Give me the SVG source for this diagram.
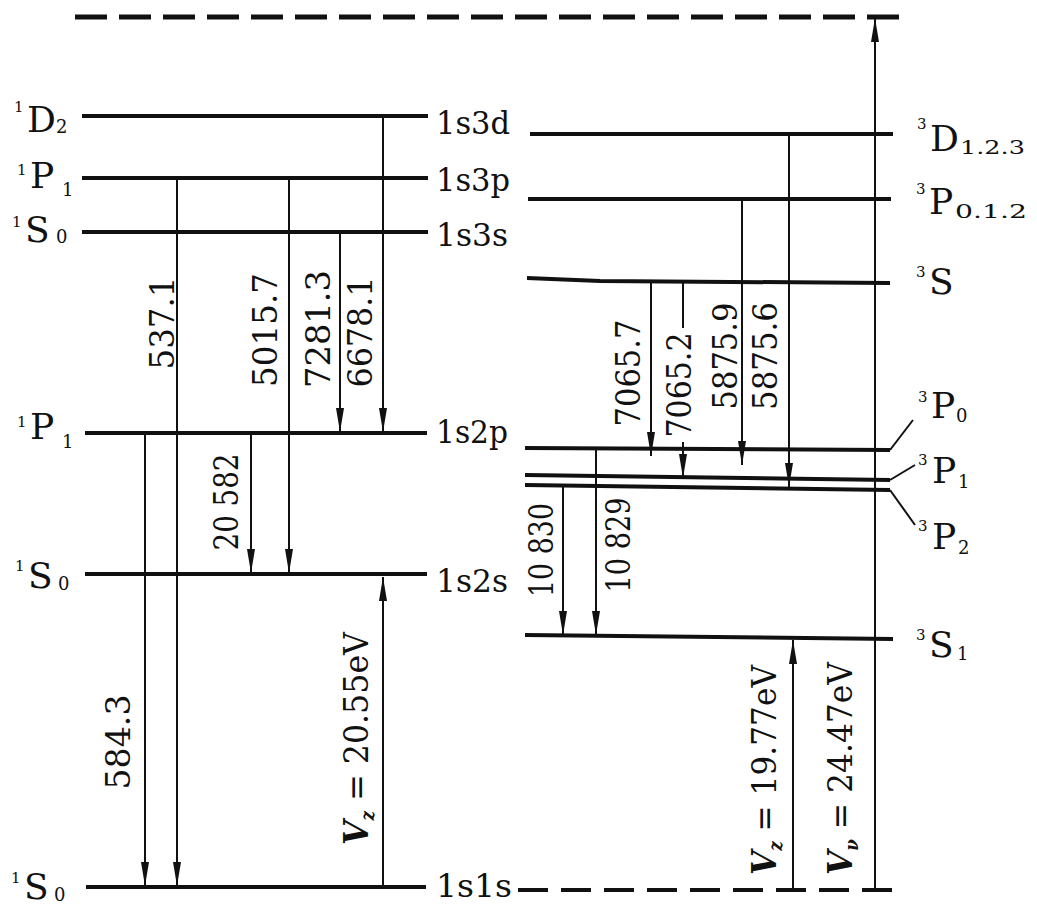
<svg xmlns="http://www.w3.org/2000/svg" width="1037" height="908" viewBox="0 0 1037 908">
<style>
.lv{stroke:#111;stroke-width:4;fill:none;stroke-linecap:butt}
.tr{stroke:#111;stroke-width:2;fill:none}
.dash{stroke:#111;fill:none}
.t{fill:#111}
.big{font-size:36px}
.sup{font-size:15px}
.sub{font-size:18px}
.nm{font-size:32px}
.num{font-size:34px}
.it{font-style:italic;font-weight:bold;font-size:34px}
</style>
<defs>
<marker id="ah" viewBox="0 0 24 8" refX="24" refY="4" markerWidth="24" markerHeight="8" orient="auto" markerUnits="userSpaceOnUse">
<path d="M0,0 L24,4 L0,8 z" fill="#111"/>
</marker>
</defs>
<rect width="1037" height="908" fill="#fff"/>

<g id="dashed-lines">
<line class="dash" x1="75" y1="17" x2="900" y2="17" stroke-width="5" stroke-dasharray="32 12"/>
<line class="dash" x1="518" y1="890" x2="898" y2="890" stroke-width="4" stroke-dasharray="30 13"/>
</g>

<g font-family="DejaVu Serif, Liberation Serif, serif">
<g id="level-1s3d">
<line class="lv" x1="82" y1="116" x2="428" y2="116"/>
<text class="t sup" x="14" y="112">1</text><text class="t big" x="27" y="132">D</text><text class="t sub" x="56" y="133">2</text>
<text class="t nm" x="436" y="134" textLength="74" lengthAdjust="spacingAndGlyphs">1s3d</text>
</g>
<g id="level-1s3p">
<line class="lv" x1="82" y1="178" x2="428" y2="178"/>
<text class="t sup" x="17" y="175">1</text><text class="t big" x="30" y="188">P</text><text class="t sub" x="62" y="196">1</text>
<text class="t nm" x="436" y="191" textLength="74" lengthAdjust="spacingAndGlyphs">1s3p</text>
</g>
<g id="level-1s3s">
<line class="lv" x1="82" y1="232" x2="428" y2="232"/>
<text class="t sup" x="12" y="227">1</text><text class="t big" x="25" y="242">S</text><text class="t sub" x="56" y="243">0</text>
<text class="t nm" x="436" y="246" textLength="72" lengthAdjust="spacingAndGlyphs">1s3s</text>
</g>
<g id="level-1s2p">
<line class="lv" x1="85" y1="433" x2="427" y2="433"/>
<text class="t sup" x="17" y="427">1</text><text class="t big" x="30" y="439">P</text><text class="t sub" x="62" y="448">1</text>
<text class="t nm" x="436" y="443" textLength="72" lengthAdjust="spacingAndGlyphs">1s2p</text>
</g>
<g id="level-1s2s">
<line class="lv" x1="85" y1="574" x2="427" y2="574"/>
<text class="t sup" x="15" y="571">1</text><text class="t big" x="28" y="588">S</text><text class="t sub" x="58" y="590">0</text>
<text class="t nm" x="436" y="592" textLength="72" lengthAdjust="spacingAndGlyphs">1s2s</text>
</g>
<g id="level-1s1s">
<line class="lv" x1="86" y1="887" x2="426" y2="887"/>
<text class="t sup" x="11" y="883">1</text><text class="t big" x="24" y="899">S</text><text class="t sub" x="54" y="901">0</text>
<text class="t nm" x="436" y="897" textLength="76" lengthAdjust="spacingAndGlyphs">1s1s</text>
</g>

<g id="level-3D">
<line class="lv" x1="530" y1="134" x2="893" y2="134"/>
<text class="t sup" x="917" y="129">3</text><text class="t big" x="930" y="151">D</text><text class="t sub" x="960" y="154" textLength="65" lengthAdjust="spacingAndGlyphs">1.2.3</text>
</g>
<g id="level-3P012">
<line class="lv" x1="528" y1="199" x2="891" y2="199"/>
<text class="t sup" x="916" y="194">3</text><text class="t big" x="929" y="214">P</text><text class="t sub" x="955" y="218" textLength="72" lengthAdjust="spacingAndGlyphs">0.1.2</text>
</g>
<g id="level-3S">
<path class="lv" d="M527,278 L600,281 L890,283"/>
<text class="t sup" x="916" y="277">3</text><text class="t big" x="929" y="294">S</text>
</g>
<g id="level-3P0">
<line class="lv" x1="525" y1="448" x2="890" y2="450"/>
<line class="tr" x1="890" y1="450" x2="913" y2="420"/>
<text class="t sup" x="918" y="402">3</text><text class="t big" x="931" y="418">P</text><text class="t sub" x="956" y="422">0</text>
</g>
<g id="level-3P1">
<line class="lv" x1="525" y1="475" x2="890" y2="480"/>
<line class="tr" x1="890" y1="480" x2="915" y2="465"/>
<text class="t sup" x="918" y="465">3</text><text class="t big" x="932" y="483">P</text><text class="t sub" x="958" y="488">1</text>
</g>
<g id="level-3P2">
<line class="lv" x1="525" y1="485" x2="890" y2="490"/>
<line class="tr" x1="890" y1="490" x2="915" y2="525"/>
<text class="t sup" x="918" y="531">3</text><text class="t big" x="932" y="549">P</text><text class="t sub" x="958" y="554">2</text>
</g>
<g id="level-3S1">
<line class="lv" x1="525" y1="635" x2="893" y2="639"/>
<text class="t sup" x="916" y="640">3</text><text class="t big" x="929" y="657">S</text><text class="t sub" x="957" y="660">1</text>
</g>

<g id="connectors">
<line class="tr" x1="177" y1="178" x2="177" y2="886" marker-end="url(#ah)"/>
<line class="tr" x1="145" y1="433" x2="145" y2="886" marker-end="url(#ah)"/>
<line class="tr" x1="251" y1="433" x2="251" y2="573" marker-end="url(#ah)"/>
<line class="tr" x1="289" y1="178" x2="289" y2="573" marker-end="url(#ah)"/>
<line class="tr" x1="340" y1="232" x2="340" y2="432" marker-end="url(#ah)"/>
<line class="tr" x1="383" y1="116" x2="383" y2="432" marker-end="url(#ah)"/>
<line class="tr" x1="383" y1="887" x2="383" y2="577" marker-end="url(#ah)"/>
<line class="tr" x1="651" y1="281" x2="651" y2="456" marker-end="url(#ah)"/>
<line class="tr" x1="683" y1="282" x2="683" y2="328"/>
<line class="tr" x1="683" y1="442" x2="683" y2="478" marker-end="url(#ah)"/>
<line class="tr" x1="742" y1="199" x2="742" y2="465" marker-end="url(#ah)"/>
<line class="tr" x1="789" y1="134" x2="789" y2="487" marker-end="url(#ah)"/>
<line class="tr" x1="563" y1="486" x2="563" y2="635" marker-end="url(#ah)"/>
<line class="tr" x1="596" y1="449" x2="596" y2="635" marker-end="url(#ah)"/>
<line class="tr" x1="793" y1="890" x2="793" y2="640" marker-end="url(#ah)"/>
<line class="tr" x1="875" y1="890" x2="875" y2="18" marker-end="url(#ah)"/>
</g>

<g id="labels">
<text class="t num" transform="translate(174,323) rotate(-90)" text-anchor="middle" textLength="93" lengthAdjust="spacingAndGlyphs">537.1</text>
<text class="t num" transform="translate(277,330) rotate(-90)" text-anchor="middle" textLength="114" lengthAdjust="spacingAndGlyphs">5015.7</text>
<text class="t num" transform="translate(330,329) rotate(-90)" text-anchor="middle" textLength="118" lengthAdjust="spacingAndGlyphs">7281.3</text>
<text class="t num" transform="translate(372,332) rotate(-90)" text-anchor="middle" textLength="111" lengthAdjust="spacingAndGlyphs">6678.1</text>
<text class="t num" transform="translate(130,742) rotate(-90)" text-anchor="middle" textLength="95" lengthAdjust="spacingAndGlyphs">584.3</text>
<text class="t num" transform="translate(238,502) rotate(-90)" text-anchor="middle" textLength="97" lengthAdjust="spacingAndGlyphs">20 582</text>
<text class="t num" transform="translate(640,373) rotate(-90)" text-anchor="middle" textLength="107" lengthAdjust="spacingAndGlyphs">7065.7</text>
<text class="t num" transform="translate(691,385) rotate(-90)" text-anchor="middle" textLength="105" lengthAdjust="spacingAndGlyphs">7065.2</text>
<text class="t num" transform="translate(737,356) rotate(-90)" text-anchor="middle" textLength="107" lengthAdjust="spacingAndGlyphs">5875.9</text>
<text class="t num" transform="translate(777,356) rotate(-90)" text-anchor="middle" textLength="108" lengthAdjust="spacingAndGlyphs">5875.6</text>
<text class="t num" transform="translate(553,550) rotate(-90)" text-anchor="middle" textLength="94" lengthAdjust="spacingAndGlyphs">10 830</text>
<text class="t num" transform="translate(630,545) rotate(-90)" text-anchor="middle" textLength="95" lengthAdjust="spacingAndGlyphs">10 829</text>
<text class="t num" transform="translate(368,845) rotate(-90)" textLength="213" lengthAdjust="spacingAndGlyphs"><tspan class="it">V</tspan><tspan font-size="18" font-style="italic" font-weight="bold" dy="6">z</tspan><tspan dy="-6"> = 20.55eV</tspan></text>
<text class="t num" transform="translate(776,875) rotate(-90)" textLength="210" lengthAdjust="spacingAndGlyphs"><tspan class="it">V</tspan><tspan font-size="18" font-style="italic" font-weight="bold" dy="6">z</tspan><tspan dy="-6"> = 19.77eV</tspan></text>
<text class="t num" transform="translate(852,875) rotate(-90)" textLength="213" lengthAdjust="spacingAndGlyphs"><tspan class="it">V</tspan><tspan font-size="18" font-style="italic" font-weight="bold" dy="6">ν</tspan><tspan dy="-6"> = 24.47eV</tspan></text>
</g>
</g>
</svg>
